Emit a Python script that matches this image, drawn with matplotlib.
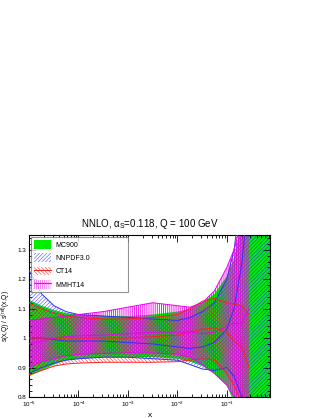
import numpy as np
import matplotlib
matplotlib.use('Agg')
import matplotlib.pyplot as plt
from matplotlib.patches import Patch
from matplotlib.lines import Line2D
from matplotlib import ticker

plt.rcParams['font.family'] = ['Liberation Sans', 'DejaVu Sans']
plt.rcParams['hatch.linewidth'] = 0.35
plt.rcParams['mathtext.fontset'] = 'custom'
plt.rcParams['mathtext.rm'] = 'Liberation Sans'
plt.rcParams['mathtext.it'] = 'Liberation Sans'

# x grid
x = [1e-5, 1.8e-5, 3.2e-5, 5.6e-5, 1e-4, 3.2e-4, 1e-3, 3.2e-3, 1e-2, 1.8e-2,
     3.2e-2, 5.6e-2, 0.1, 0.14, 0.2, 0.28, 0.4, 0.56, 0.75]

mc_hi = [1.13, 1.11, 1.095, 1.085, 1.08, 1.075, 1.075, 1.08, 1.09, 1.10,
         1.12, 1.15, 1.21, 1.27, 1.40, 1.60, 1.80, 2.0, 2.0]
mc_lo = [0.87, 0.89, 0.91, 0.925, 0.93, 0.935, 0.935, 0.935, 0.93, 0.92,
         0.905, 0.88, 0.84, 0.78, 0.70, 0.60, 0.50, 0.40, 0.40]

nn_hi = [1.23, 1.15, 1.11, 1.09, 1.08, 1.075, 1.07, 1.065, 1.06, 1.07,
         1.09, 1.12, 1.20, 1.30, 1.50, 1.80, 1.80, 1.80, 1.80]
nn_lo = [0.88, 0.90, 0.915, 0.925, 0.93, 0.935, 0.935, 0.93, 0.925, 0.91,
         0.895, 0.89, 0.90, 0.87, 0.80, 0.60, 0.50, 0.40, 0.40]
nn_ce = [1.0, 1.0, 0.995, 0.99, 0.99, 0.99, 0.985, 0.98, 0.97, 0.965,
         0.97, 0.985, 1.03, 1.10, 1.25, 1.50, 1.50, 1.50, 1.50]

ct_x = x[:16]
ct_hi = [1.12, 1.10, 1.085, 1.075, 1.07, 1.065, 1.065, 1.07, 1.08, 1.10,
         1.125, 1.135, 1.12, 1.115, 1.11, 1.08]
ct_lo = [0.875, 0.89, 0.905, 0.912, 0.915, 0.918, 0.918, 0.918, 0.92, 0.925,
         0.93, 0.925, 0.88, 0.84, 0.78, 0.65]
ct_ce = [1.0, 1.0, 1.0, 1.0, 1.0, 1.0, 1.0, 1.005, 1.01, 1.02,
         1.03, 1.035, 1.02, 0.99, 0.97, 0.90]

mm_x = x[:16]
mm_hi = [1.06, 1.065, 1.07, 1.075, 1.08, 1.09, 1.105, 1.12, 1.11, 1.105,
         1.12, 1.16, 1.24, 1.30, 1.40, 1.60]
mm_lo = [0.90, 0.92, 0.93, 0.94, 0.945, 0.948, 0.95, 0.95, 0.945, 0.935,
         0.91, 0.88, 0.84, 0.80, 0.70, 0.60]
mm_ce = [0.98, 0.99, 1.0, 1.005, 1.008, 1.01, 1.015, 1.02, 1.02, 1.02,
         1.015, 1.02, 1.04, 1.05, 1.05, 1.10]

H_NN = '/' * 9
H_CT = '\\' * 9
H_MM = '|' * 8

fig = plt.figure(figsize=(3.23, 4.18), dpi=100)
ax = fig.add_axes([0.0898, 0.0502, 0.7464, 0.3876])

# green first, hatches on top
ax.fill_between(x, mc_lo, mc_hi, color='#00ee00', lw=0, zorder=1)


def band(xx, lo, hi, ce, col, hatch, hlw):
    with plt.rc_context({'hatch.linewidth': hlw}):
        pc = ax.fill_between(xx, lo, hi, facecolor='none', edgecolor=col,
                             hatch=hatch, lw=0, zorder=2)
    if hasattr(pc, 'set_hatch_linewidth'):
        pc.set_hatch_linewidth(hlw)
    ax.plot(xx, lo, color=col, lw=0.7, zorder=3)
    ax.plot(xx, hi, color=col, lw=0.7, zorder=3)
    if ce is not None:
        ax.plot(xx, ce, color=col, lw=0.7, zorder=3)


band(x, nn_lo, nn_hi, nn_ce, '#3030ff', H_NN, 0.35)
band(ct_x, ct_lo, ct_hi, ct_ce, '#ff2020', H_CT, 0.35)
band(mm_x, mm_lo, mm_hi, mm_ce, '#ee00ee', H_MM, 0.6)

ax.set_xscale('log')
ax.set_xlim(1e-5, 0.75)
ax.set_ylim(0.8, 1.35)
ax.yaxis.set_major_locator(ticker.MultipleLocator(0.1))
ax.yaxis.set_minor_locator(ticker.MultipleLocator(0.02))
ax.yaxis.set_major_formatter(ticker.FuncFormatter(lambda v, p: '%g' % round(v, 2)))
ax.xaxis.set_major_locator(ticker.LogLocator(base=10, numticks=10))
ax.xaxis.set_minor_locator(ticker.LogLocator(base=10, subs=np.arange(2, 10), numticks=10))
ax.tick_params(which='both', direction='in', top=True, right=True, labelsize=4.5,
               width=0.6, pad=2)
ax.tick_params(which='major', length=5)
ax.tick_params(which='minor', length=2.5)
for s in ax.spines.values():
    s.set_linewidth(0.8)

ax.set_title(r'NNLO, $\alpha_S$=0.118, Q = 100 GeV', fontsize=7, pad=6)
ax.set_xlabel('x', fontsize=6, labelpad=2)
ax.set_ylabel(r's(x,Q) / s$^{\mathrm{(ref)}}$(x,Q)', fontsize=4.8, labelpad=3)

h_mc = (Patch(facecolor='#00ee00', edgecolor='none'),)
h_nn = Patch(facecolor='none', edgecolor='#3030ff', hatch=H_NN, lw=0)
h_ct = (Patch(facecolor='none', edgecolor='#ff2020', hatch=H_CT, lw=0),
        Line2D([], [], color='#ff2020', lw=0.8))
h_mm = (Patch(facecolor='none', edgecolor='#ee00ee', hatch=H_MM, lw=0),
        Line2D([], [], color='#ee00ee', lw=0.8))
leg = ax.legend([h_mc, h_nn, h_ct, h_mm], ['MC900', 'NNPDF3.0', 'CT14', 'MMHT14'],
                loc='upper left', bbox_to_anchor=(0.008, 0.667, 0.402, 0.321),
                mode='expand', fontsize=5, frameon=True, fancybox=False,
                borderpad=0.45, labelspacing=0.7, handlelength=2.5,
                handleheight=1.5, handletextpad=0.6, borderaxespad=0)
leg.get_frame().set_edgecolor('#777777')
leg.get_frame().set_linewidth(0.8)
leg.set_zorder(10)

fig.savefig('out.png', dpi=100)
